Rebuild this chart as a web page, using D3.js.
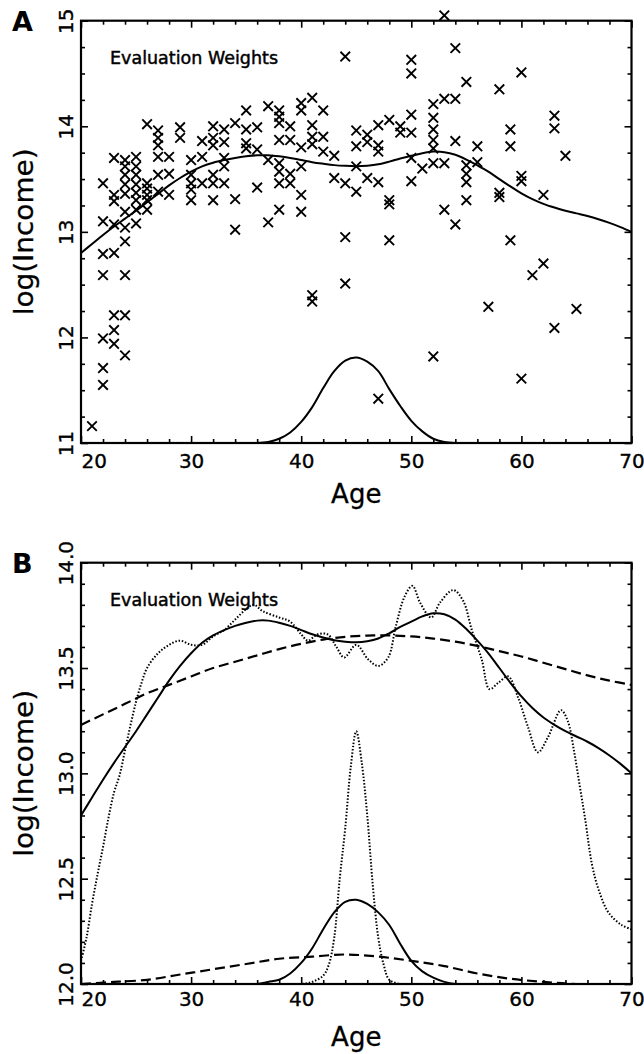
<!DOCTYPE html>
<html><head><meta charset="utf-8">
<script src="https://cdn.jsdelivr.net/npm/d3@7"></script>
<style>
body{margin:0;background:#fff}
svg{display:block}
text{font-family:"DejaVu Sans",sans-serif;fill:#000}
</style>
</head><body>
<svg id="c" width="644" height="1054"></svg>
<script>
// ---------------- DATA ----------------
const xTickValues = [20, 30, 40, 50, 60, 70];
const yTickValuesA = [11, 12, 13, 14, 15];
const yTickValuesB = [12.0, 12.5, 13.0, 13.5, 14.0];

// Panel A scatter: ages and the log(Income) values observed at each age
const scatterAges = [21,22,23,24,25,26,27,28,29,30,31,32,33,34,35,36,37,38,39,40,41,42,43,44,45,46,47,48,49,50,51,52,53,54,55,56,57,58,59,60,61,62,63,64,65];
const scatterValues = [
  [11.16],
  [11.55,11.71,11.99,12.59,12.79,13.10,13.46],
  [11.94,12.07,12.21,12.80,13.07,13.29,13.35,13.70],
  [11.83,12.21,12.59,12.91,13.04,13.19,13.36,13.45,13.54,13.62,13.68],
  [13.08,13.21,13.30,13.37,13.45,13.54,13.62,13.71],
  [13.21,13.30,13.35,13.41,13.46,14.02],
  [13.38,13.54,13.71,13.82,13.89,13.96],
  [13.35,13.55,13.71],
  [13.89,13.99],
  [13.30,13.40,13.46,13.54,13.68],
  [13.46,13.71,13.86],
  [13.30,13.46,13.54,13.82,13.89,14.00],
  [13.46,13.62,13.70,13.85,13.97],
  [13.02,13.31,14.03],
  [13.79,13.84,13.97,14.15],
  [13.42,13.78,13.99],
  [13.09,13.68,14.19],
  [13.21,13.46,13.57,13.65,13.87,14.03,14.09,14.15],
  [13.46,13.55,13.87,14.00],
  [13.19,13.35,13.62,13.80,14.15,14.22],
  [12.34,12.40,13.83,13.90,14.01,14.27],
  [13.76,13.90,14.15],
  [13.51,13.72],
  [12.51,12.95,13.46,14.66],
  [13.38,13.62,13.81,13.96],
  [13.51,13.85,13.92],
  [11.42,13.47,13.76,13.82,14.01],
  [12.92,13.26,13.30,14.06],
  [13.94,14.00],
  [13.48,13.70,13.94,14.11,14.50,14.63],
  [13.60],
  [11.82,13.65,13.79,13.87,13.97,14.08,14.21],
  [13.21,13.65,14.26,15.05],
  [13.07,13.86,14.26,14.74],
  [13.30,13.47,13.55,13.63,14.42],
  [13.66,13.81],
  [12.29],
  [13.33,13.37,14.35],
  [12.92,13.81,13.97],
  [11.61,13.48,13.53,14.51],
  [12.59],
  [12.70,13.35],
  [12.09,13.98,14.10],
  [13.72],
  [12.27]
];

// Smooth fit (solid line, both panels)
const fitSolid = [[20,12.80],[21,12.885],[22,12.97],[23,13.05],[24,13.125],[25,13.20],[26,13.28],[27,13.36],[28,13.44],[29,13.51],[30,13.57],[31,13.62],[32,13.655],[33,13.68],[34,13.70],[35,13.715],[36,13.725],[37,13.725],[38,13.715],[39,13.70],[40,13.68],[41,13.66],[42,13.645],[43,13.632],[44,13.625],[45,13.622],[46,13.627],[47,13.64],[48,13.665],[49,13.695],[50,13.72],[51,13.745],[52,13.76],[53,13.755],[54,13.73],[55,13.685],[56,13.63],[57,13.57],[58,13.50],[59,13.43],[60,13.365],[61,13.31],[62,13.265],[63,13.23],[64,13.20],[65,13.175],[66,13.15],[67,13.12],[68,13.085],[69,13.045],[70,13.00]];

// Wide-bandwidth fit (dashed, panel B)
const fitDashed = [[20,13.23],[22,13.28],[24,13.33],[26,13.38],[28,13.42],[30,13.46],[32,13.50],[34,13.53],[36,13.56],[38,13.59],[40,13.615],[42,13.635],[44,13.648],[46,13.654],[48,13.655],[50,13.65],[52,13.64],[54,13.625],[56,13.605],[58,13.58],[60,13.555],[62,13.525],[64,13.495],[66,13.465],[68,13.44],[70,13.42]];

// Narrow-bandwidth fit (dotted, panel B)
const fitDotted = [[20,12.11],[20.5,12.22],[21,12.38],[21.5,12.52],[22,12.65],[22.5,12.79],[23,12.91],[23.5,12.99],[24,13.11],[24.5,13.23],[25,13.34],[25.5,13.43],[26,13.50],[27,13.57],[28,13.61],[29,13.63],[30,13.61],[31,13.61],[32,13.65],[33,13.68],[34,13.73],[35,13.78],[35.7,13.80],[36.5,13.77],[38,13.74],[39,13.72],[40,13.66],[40.6,13.63],[41.5,13.66],[42.4,13.66],[43.2,13.60],[43.9,13.55],[45,13.61],[46.1,13.54],[47,13.51],[47.9,13.55],[48.6,13.70],[49.4,13.84],[50.1,13.89],[50.8,13.81],[51.8,13.74],[52.6,13.81],[53.8,13.87],[54.7,13.82],[55.5,13.68],[56.4,13.54],[57.1,13.40],[57.9,13.43],[58.8,13.46],[59.7,13.36],[60.6,13.22],[61.5,13.10],[62.4,13.17],[63.6,13.30],[64.2,13.25],[64.8,13.10],[65.3,12.94],[65.8,12.78],[66.4,12.57],[67,12.45],[67.9,12.34],[69.1,12.28],[70,12.26]];

// Evaluation weights at age 45
const weightA = [[35,11.00],[36,11.00],[37,11.01],[38,11.04],[39,11.10],[40,11.20],[41,11.34],[42,11.52],[43,11.68],[44,11.78],[45,11.81],[46,11.77],[47,11.68],[48,11.51],[49,11.35],[50,11.21],[51,11.11],[52,11.04],[53,11.01],[54,11.00],[55,11.00]];
const weightSolidB = [[35,12.00],[36,12.00],[37,12.01],[38,12.02],[39,12.05],[40,12.10],[41,12.17],[42,12.26],[43,12.34],[44,12.39],[45,12.40],[46,12.38],[47,12.34],[48,12.28],[49,12.19],[50,12.11],[51,12.06],[52,12.03],[53,12.01],[54,12.00],[55,12.00]];
const weightDottedB = [[38,12.00],[40,12.00],[41,12.01],[42,12.04],[42.5,12.09],[43,12.22],[43.5,12.50],[44,12.74],[44.5,13.03],[45,13.20],[45.5,13.05],[46,12.80],[46.5,12.47],[47,12.22],[47.5,12.09],[48,12.02],[49,12.00],[50,12.00]];
const weightDashedB = [[20,12.00],[23,12.01],[26,12.02],[29,12.045],[32,12.07],[35,12.095],[38,12.12],[41,12.13],[44,12.14],[47,12.13],[50,12.11],[53,12.085],[56,12.05],[59,12.025],[62,12.01],[65,12.00],[70,12.00]];

// ---------------- DRAWING ----------------
const svg = d3.select("#c");
svg.append("rect").attr("width",644).attr("height",1054).attr("fill","#fff");

const LEFT = 81, RIGHT = 631.5;

function panel(cfg){
  const x = d3.scaleLinear().domain([20,70]).range([LEFT,RIGHT]);
  const y = d3.scaleLinear().domain(cfg.yDomain).range([cfg.bottom,cfg.top]);
  const g = svg.append("g");
  const xMinor = d3.range(20,70.01,2).filter(v => v % 10 !== 0);
  const yMinor = d3.range(cfg.yDomain[0], cfg.yDomain[1]+1e-6, cfg.yMinorStep).filter(v => !cfg.yTicks.some(t => Math.abs(t-v)<1e-6));

  function styleAxis(sel){
    sel.select(".domain").remove();
    sel.selectAll(".tick line").attr("stroke","#000").attr("stroke-width",1.6);
  }
  const minorLen = -4, majorLen = -7;
  g.append("g").attr("transform",`translate(0,${cfg.bottom})`).call(d3.axisBottom(x).tickValues(xMinor).tickSize(minorLen).tickFormat("")).call(styleAxis);
  g.append("g").attr("transform",`translate(0,${cfg.top})`).call(d3.axisTop(x).tickValues(xMinor).tickSize(minorLen).tickFormat("")).call(styleAxis);
  g.append("g").attr("transform",`translate(${LEFT},0)`).call(d3.axisLeft(y).tickValues(yMinor).tickSize(minorLen).tickFormat("")).call(styleAxis);
  g.append("g").attr("transform",`translate(${RIGHT},0)`).call(d3.axisRight(y).tickValues(yMinor).tickSize(minorLen).tickFormat("")).call(styleAxis);

  const bx = g.append("g").attr("transform",`translate(0,${cfg.bottom})`)
    .call(d3.axisBottom(x).tickValues(xTickValues).tickSize(majorLen).tickFormat(d3.format("d"))).call(styleAxis);
  bx.selectAll("text").attr("y",cfg.xLabelBase).attr("dy",0).attr("font-size",20)
    .attr("font-family","DejaVu Sans").attr("stroke","#000").attr("stroke-width",0.35);
  bx.selectAll("text").filter(d => d === 20).attr("text-anchor","start").attr("x",0);
  g.append("g").attr("transform",`translate(0,${cfg.top})`).call(d3.axisTop(x).tickValues(xTickValues).tickSize(majorLen).tickFormat("")).call(styleAxis);
  const ly = g.append("g").attr("transform",`translate(${LEFT},0)`)
    .call(d3.axisLeft(y).tickValues(cfg.yTicks).tickSize(majorLen).tickFormat(d3.format(cfg.yFmt))).call(styleAxis);
  ly.selectAll("text").attr("x",0).attr("dy",0).attr("text-anchor","middle")
    .attr("transform","translate(-8.5,0) rotate(-90)").attr("font-size",20)
    .attr("font-family","DejaVu Sans").attr("stroke","#000").attr("stroke-width",0.35);
  g.append("g").attr("transform",`translate(${RIGHT},0)`).call(d3.axisRight(y).tickValues(cfg.yTicks).tickSize(majorLen).tickFormat("")).call(styleAxis);

  g.append("rect").attr("x",LEFT).attr("y",cfg.top).attr("width",RIGHT-LEFT).attr("height",cfg.bottom-cfg.top)
    .attr("fill","none").attr("stroke","#000").attr("stroke-width",2.2);

  const cid = "clip"+cfg.label;
  svg.append("clipPath").attr("id",cid).append("rect").attr("x",LEFT).attr("y",cfg.top).attr("width",RIGHT-LEFT).attr("height",cfg.bottom-cfg.top);
  const plot = g.append("g").attr("clip-path",`url(#${cid})`);
  const line = d3.line().x(d=>x(d[0])).y(d=>y(d[1])).curve(d3.curveCatmullRom.alpha(0.5));
  cfg.lines.forEach(L => {
    plot.append("path").datum(L.data).attr("d",line).attr("fill","none").attr("stroke","#000")
      .attr("stroke-width",L.w).attr("stroke-dasharray",L.dash || null).attr("stroke-linejoin","round");
  });

  if (cfg.scatter){
    const pts = [];
    scatterAges.forEach((a,i) => scatterValues[i].forEach(v => pts.push([a,v])));
    g.append("g").selectAll("path").data(pts).join("path")
      .attr("transform",d=>`translate(${x(d[0])},${y(d[1])})`)
      .attr("d","M-4.8,-4.8L4.8,4.8M-4.8,4.8L4.8,-4.8")
      .attr("stroke","#000").attr("stroke-width",1.9).attr("fill","none");
  }

  g.append("text").attr("x",110).attr("y",cfg.top+42.8).attr("font-size",17)
    .attr("stroke","#000").attr("stroke-width",0.45)
    .attr("textLength",168).attr("lengthAdjust","spacingAndGlyphs").text("Evaluation Weights");
  g.append("text").attr("x",(LEFT+RIGHT)/2).attr("y",cfg.bottom+cfg.titleOff).attr("text-anchor","middle")
    .attr("font-size",26).attr("stroke","#000").attr("stroke-width",0.3).text("Age");
  g.append("text").attr("transform",`translate(33,${(cfg.top+cfg.bottom)/2}) rotate(-90)`).attr("text-anchor","middle")
    .attr("font-size",27).attr("stroke","#000").attr("stroke-width",0.3)
    .attr("textLength",167).attr("lengthAdjust","spacingAndGlyphs").text("log(Income)");
  g.append("text").attr("x",12).attr("y",cfg.top+10.5).attr("font-size",27).attr("font-weight","bold")
    .attr("font-family","Liberation Sans, Arial, sans-serif").text(cfg.label);
}

panel({
  label:"A", top:20.7, bottom:443, yDomain:[11,15], yTicks:yTickValuesA, yMinorStep:0.25, yFmt:"d",
  xLabelBase:24.5, titleOff:59.5, scatter:true,
  lines:[{data:fitSolid,w:2},{data:weightA,w:2}]
});
panel({
  label:"B", top:562.7, bottom:984, yDomain:[12,14], yTicks:yTickValuesB, yMinorStep:0.1, yFmt:".1f",
  xLabelBase:22, titleOff:62, scatter:false,
  lines:[
    {data:fitSolid,w:2},{data:fitDashed,w:2.2,dash:"10,5"},{data:fitDotted,w:2,dash:"1.5,1.8"},
    {data:weightSolidB,w:2},{data:weightDashedB,w:2.2,dash:"10,5"},{data:weightDottedB,w:2,dash:"1.5,1.8"}
  ]
});
</script>
</body></html>
